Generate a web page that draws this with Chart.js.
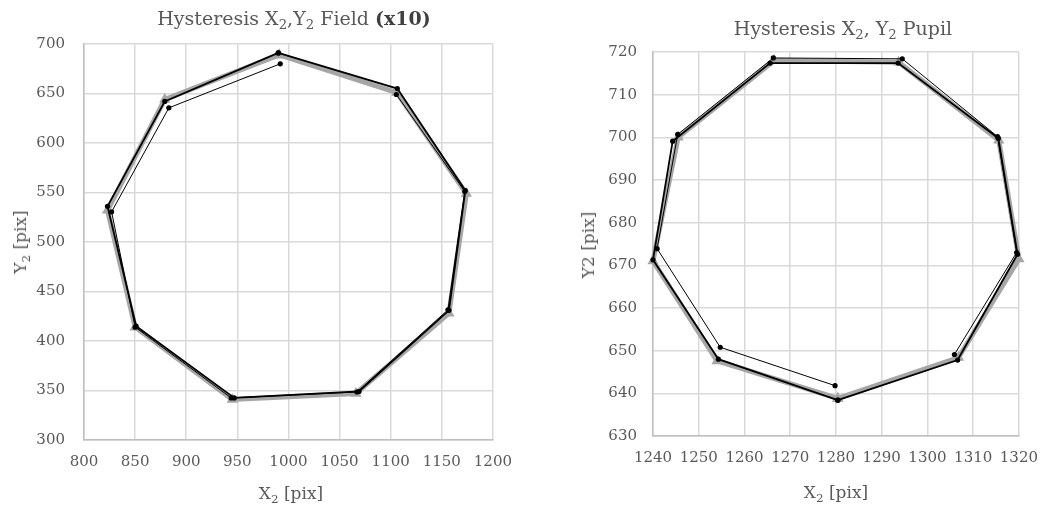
<!DOCTYPE html>
<html>
<head>
<meta charset="utf-8">
<script src="https://cdn.jsdelivr.net/npm/chart.js@4.4.1/dist/chart.umd.min.js"></script>
<style>
  body { margin:0; background:#fff; width:1051px; height:511px; overflow:hidden; position:relative; font-family:"DejaVu Serif", serif; color:#595959; }
  canvas { position:absolute; top:0; }
  .lbl { position:absolute; white-space:nowrap; transform:translate(-50%,-50%); }
  .rot { transform:translate(-50%,-50%) rotate(-90deg); }
  sub { font-size:0.7em; vertical-align:-0.3em; line-height:0; }
  .ttl { font-size:19px; }
  .axt { font-size:17px; }
</style>
</head>
<body>
<canvas id="field" width="525" height="511" style="left:0"></canvas>
<canvas id="pupil" width="526" height="511" style="left:525px"></canvas>

<div class="lbl ttl" style="left:294px; top:18px">Hysteresis X<sub>2</sub>,Y<sub>2</sub> Field <b style="color:#404040">(x10)</b></div>
<div class="lbl axt" style="left:291px; top:493px">X<sub>2</sub> [pix]</div>
<div class="lbl axt rot" style="left:20px; top:242px">Y<sub>2</sub> [pix]</div>

<div class="lbl ttl" style="left:843px; top:28px">Hysteresis X<sub>2</sub>, Y<sub>2</sub> Pupil</div>
<div class="lbl axt" style="left:836px; top:492px">X<sub>2</sub> [pix]</div>
<div class="lbl axt rot" style="left:588px; top:245px">Y2 [pix]</div>

<script>
// Field (x10) - reference loop (gray) and measured passes (black)
const fieldGrayX = [991, 1106, 1174, 1157, 1066, 945, 850, 823, 879, 991]
const fieldGrayY = [689, 651, 549, 428, 347, 341, 414, 532, 644, 689]
const fieldBlackX = [990, 1106.5, 1173, 1157, 1069, 947, 851, 823, 879, 990]
const fieldBlackY = [691, 655, 552, 431, 349, 342.5, 415, 536, 642, 691]
const fieldThinX = [992, 883, 827, 850, 944, 1067, 1156, 1172.5, 1105.5]
const fieldThinY = [680, 635.5, 530.5, 414, 342.5, 348.5, 431.5, 551, 649]

// Pupil
const pupilGrayX = [1280.4, 1254, 1240, 1245.5, 1266.5, 1293.7, 1315.6, 1320, 1306.8, 1280.4]
const pupilGrayY = [638.8, 647.6, 671, 700, 718, 717.6, 699.3, 671.5, 648.4, 638.8]
const pupilBlackX = [1280.4, 1254.3, 1240, 1244.3, 1265.6, 1293.6, 1315.5, 1319.7, 1306.6, 1280.4]
const pupilBlackY = [638.4, 648, 671.3, 699.1, 717.4, 717.4, 699.8, 672.6, 647.8, 638.4]
const pupilThinX = [1279.8, 1254.7, 1240.9, 1245.4, 1266.3, 1294.5, 1315.3, 1319.5, 1305.9]
const pupilThinY = [641.8, 650.8, 673.9, 700.7, 718.6, 718.4, 700.2, 673, 649.1]

// axis ranges: min, max, step
const fieldXTicks = [800, 1200, 50]
const fieldYTicks = [300, 700, 50]
const pupilXTicks = [1240, 1320, 10]
const pupilYTicks = [630, 720, 10]

const GRAY = '#a6a6a6'
const TICKCOL = '#595959'

function pts(xs, ys) {
  return xs.map((x, i) => ({ x: x, y: ys[i] }))
}

function sets(gx, gy, bx, by, tx, ty) {
  return [
    {
      data: pts(tx, ty), showLine: true, borderColor: '#000', borderWidth: 1,
      pointStyle: 'circle', pointRadius: 2.6, pointBackgroundColor: '#000', pointBorderWidth: 0,
      clip: false, order: 0
    },
    {
      data: pts(bx, by), showLine: true, borderColor: '#000', borderWidth: 1.8,
      pointStyle: 'circle', pointRadius: 2.6, pointBackgroundColor: '#000', pointBorderWidth: 0,
      clip: false, order: 1
    },
    {
      data: pts(gx, gy), showLine: true, borderColor: GRAY, borderWidth: 5,
      pointStyle: 'triangle', pointRadius: 6.5, pointBackgroundColor: GRAY, pointBorderColor: GRAY,
      pointBorderWidth: 0, clip: false, order: 2
    }
  ]
}

function axis(t, pad, fit) {
  return {
    type: 'linear', min: t[0], max: t[1],
    ticks: {
      stepSize: t[2], color: TICKCOL, padding: pad, autoSkip: false,
      maxRotation: 0, minRotation: 0,
      font: { family: 'DejaVu Serif', size: 15 },
      callback: v => String(v)
    },
    grid: { color: '#d9d9d9', lineWidth: 1.5, drawTicks: false },
    border: { color: '#bfbfbf', width: 1.5 },
    afterFit: fit
  }
}

function makeChart(id, datasets, xt, yt, yw, xh, ypad, padding) {
  return new Chart(document.getElementById(id), {
    type: 'scatter',
    data: { datasets },
    options: {
      responsive: false,
      animation: false,
      layout: { padding },
      plugins: { legend: { display: false }, tooltip: { enabled: false } },
      elements: { line: { tension: 0 } },
      scales: {
        x: axis(xt, 13, s => { s.height = xh }),
        y: axis(yt, ypad, s => { s.width = yw })
      }
    }
  })
}

makeChart('field', sets(fieldGrayX, fieldGrayY, fieldBlackX, fieldBlackY, fieldThinX, fieldThinY),
  fieldXTicks, fieldYTicks, 84, 71, 19, { left: 0, top: 44, right: 27, bottom: 0 })

makeChart('pupil', sets(pupilGrayX, pupilGrayY, pupilBlackX, pupilBlackY, pupilThinX, pupilThinY),
  pupilXTicks, pupilYTicks, 128, 75, 16, { left: 0, top: 52, right: 32, bottom: 0 })
</script>
</body>
</html>
